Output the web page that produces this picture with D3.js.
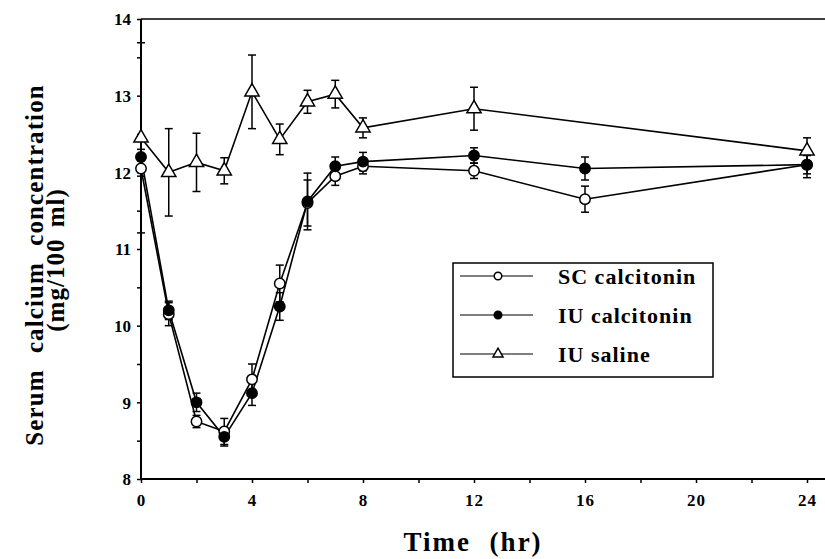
<!DOCTYPE html>
<html>
<head>
<meta charset="utf-8">
<script src="https://cdn.jsdelivr.net/npm/d3@7"></script>
<style>
  body { margin: 0; background: #fff; }
  svg { display: block; }
</style>
</head>
<body>
<div id="chart"></div>
<script>
// -------- data ------------------------------ //
var hours = [0, 1, 2, 3, 4, 5, 6, 7, 8, 12, 16, 24];
var scMean = [12.05, 10.15, 8.75, 8.62, 9.3, 10.55, 11.6, 11.95, 12.08, 12.02, 11.65, 12.1];
var scErr = [0.1, 0.15, 0.08, 0.17, 0.2, 0.24, 0.3, 0.12, 0.1, 0.1, 0.17, 0.12];
var iuMean = [12.2, 10.2, 9.0, 8.55, 9.12, 10.25, 11.62, 12.08, 12.14, 12.22, 12.05, 12.1];
var iuErr = [0.1, 0.12, 0.12, 0.12, 0.16, 0.18, 0.37, 0.12, 0.12, 0.1, 0.15, 0.17];
var salineHours = [0, 1, 2, 3, 4, 5, 6, 7, 8, 12, 24];
var salineMean = [12.45, 12.0, 12.13, 12.02, 13.05, 12.43, 12.92, 13.02, 12.58, 12.83, 12.28];
var salineErr = [1.24, 0.57, 0.38, 0.17, 0.48, 0.2, 0.15, 0.18, 0.13, 0.28, 0.17];

var xTicks = [0, 4, 8, 12, 16, 20, 24];
var yTicks = [8, 9, 10, 11, 12, 13, 14];
var legendLabels = ["SC calcitonin", "IU calcitonin", "IU saline"];

var FONT = "'Liberation Serif', 'Times New Roman', serif";
var width = 825;
var height = 559;

var x = d3.scaleLinear().domain([0, 24]).range([141, 807]);
var y = d3.scaleLinear().domain([8, 14]).range([479, 19]);

var svg = d3
  .select("#chart")
  .append("svg")
  .attr("width", width)
  .attr("height", height);

// frame: left axis, bottom axis and top rule
var frame = svg.append("g").attr("stroke", "#000").attr("stroke-width", 2);
frame.append("line").attr("x1", x(0)).attr("x2", x(0)).attr("y1", y(14)).attr("y2", y(8));
frame.append("line").attr("x1", x(0)).attr("x2", 825).attr("y1", y(8)).attr("y2", y(8));
frame.append("line").attr("x1", x(0)).attr("x2", 825).attr("y1", y(14)).attr("y2", y(14)).attr("stroke-width", 1.5);

// x axis - labels every 4 h, small ticks every 2 h
var xAxis = svg
  .append("g")
  .attr("transform", "translate(0," + y(8) + ")")
  .call(
    d3
      .axisBottom(x)
      .tickValues(d3.range(0, 25, 2))
      .tickSize(4)
      .tickPadding(11)
      .tickFormat(function(d) {
        return xTicks.indexOf(d) >= 0 ? d : "";
      })
  );
xAxis.select(".domain").remove();
xAxis.selectAll("line").attr("stroke-width", 1.5);
xAxis
  .selectAll("text")
  .style("font-family", FONT)
  .style("font-weight", "bold")
  .style("font-size", "17px")
  .attr("letter-spacing", 1);

// y axis
var yAxis = svg
  .append("g")
  .attr("transform", "translate(" + x(0) + ",0)")
  .call(
    d3
      .axisLeft(y)
      .tickValues(d3.range(8, 14.01, 0.5))
      .tickSize(4)
      .tickPadding(6)
      .tickFormat(function(d) {
        return yTicks.indexOf(d) >= 0 ? d : "";
      })
  );
yAxis.select(".domain").remove();
yAxis.selectAll("line").attr("stroke-width", 1.5);
yAxis
  .selectAll("text")
  .style("font-family", FONT)
  .style("font-weight", "bold")
  .style("font-size", "17px")
  .attr("dy", "0.35em");

// axis titles
svg
  .append("text")
  .attr("x", 473)
  .attr("y", 551)
  .attr("text-anchor", "middle")
  .attr("letter-spacing", 2)
  .attr("word-spacing", 10)
  .style("font-family", FONT)
  .style("font-weight", "bold")
  .style("font-size", "27px")
  .text("Time (hr)");

var yTitle = svg
  .append("g")
  .attr("transform", "translate(43,265) rotate(-90)");
yTitle
  .append("text")
  .attr("text-anchor", "middle")
  .attr("letter-spacing", 1.1)
  .attr("word-spacing", 9)
  .style("font-family", FONT)
  .style("font-weight", "bold")
  .style("font-size", "25px")
  .text("Serum calcium concentration");
yTitle
  .append("text")
  .attr("x", 5)
  .attr("y", 21)
  .attr("text-anchor", "middle")
  .attr("letter-spacing", 1)
  .attr("word-spacing", 4)
  .style("font-family", FONT)
  .style("font-weight", "bold")
  .style("font-size", "25px")
  .text("(mg/100 ml)");

// series
var series = [
  { name: legendLabels[0], t: hours, m: scMean, e: scErr, shape: "open" },
  { name: legendLabels[1], t: hours, m: iuMean, e: iuErr, shape: "filled" },
  { name: legendLabels[2], t: salineHours, m: salineMean, e: salineErr, shape: "triangle" },
];

var line = d3
  .line()
  .x(function(d) { return x(d.t); })
  .y(function(d) { return y(d.m); });

function pointsOf(s) {
  return s.t.map(function(t, i) {
    return { t: t, m: s.m[i], e: s.e[i] };
  });
}

function drawMarker(g, shape, size) {
  if (shape === "triangle") {
    g.append("path")
      .attr("d", d3.symbol().type(d3.symbolTriangle).size(size * 1.1)())
      .attr("fill", "#fff")
      .attr("stroke", "#000")
      .attr("stroke-width", 1.5);
  } else {
    g.append("circle")
      .attr("r", Math.sqrt(size / Math.PI))
      .attr("fill", shape === "filled" ? "#000" : "#fff")
      .attr("stroke", "#000")
      .attr("stroke-width", 1.5);
  }
}

var plot = svg.append("g");

series.forEach(function(s) {
  var pts = pointsOf(s);
  plot
    .append("path")
    .datum(pts)
    .attr("fill", "none")
    .attr("stroke", "#000")
    .attr("stroke-width", 1.6)
    .attr("d", line);

  // error bars
  var eb = plot.append("g").attr("stroke", "#000").attr("stroke-width", 1.5);
  pts.forEach(function(p) {
    var cx = x(p.t);
    eb.append("line").attr("x1", cx).attr("x2", cx).attr("y1", y(p.m - p.e)).attr("y2", y(p.m + p.e));
    eb.append("line").attr("x1", cx - 4).attr("x2", cx + 4).attr("y1", y(p.m - p.e)).attr("y2", y(p.m - p.e));
    eb.append("line").attr("x1", cx - 4).attr("x2", cx + 4).attr("y1", y(p.m + p.e)).attr("y2", y(p.m + p.e));
  });
});

series.forEach(function(s) {
  pointsOf(s).forEach(function(p) {
    var g = plot.append("g").attr("transform", "translate(" + x(p.t) + "," + y(p.m) + ")");
    drawMarker(g, s.shape, s.shape === "triangle" ? 80 : 85);
  });
});

// legend
var legend = svg.append("g");
legend
  .append("rect")
  .attr("x", 453)
  .attr("y", 263)
  .attr("width", 260)
  .attr("height", 114)
  .attr("fill", "#fff")
  .attr("stroke", "#000")
  .attr("stroke-width", 1.5);

var rowY = [276, 315, 354];
series.forEach(function(s, i) {
  var row = legend.append("g").attr("transform", "translate(0," + rowY[i] + ")");
  row
    .append("line")
    .attr("x1", 460)
    .attr("x2", 533)
    .attr("stroke", "#000")
    .attr("stroke-width", 1.2);
  var m = row.append("g").attr("transform", "translate(498,0)");
  drawMarker(m, s.shape, s.shape === "triangle" ? 40 : 45);
  row
    .append("text")
    .attr("x", 558)
    .attr("y", 8)
    .attr("letter-spacing", 1)
    .style("font-family", FONT)
    .style("font-weight", "bold")
    .style("font-size", "22px")
    .text(s.name);
});
</script>
</body>
</html>
